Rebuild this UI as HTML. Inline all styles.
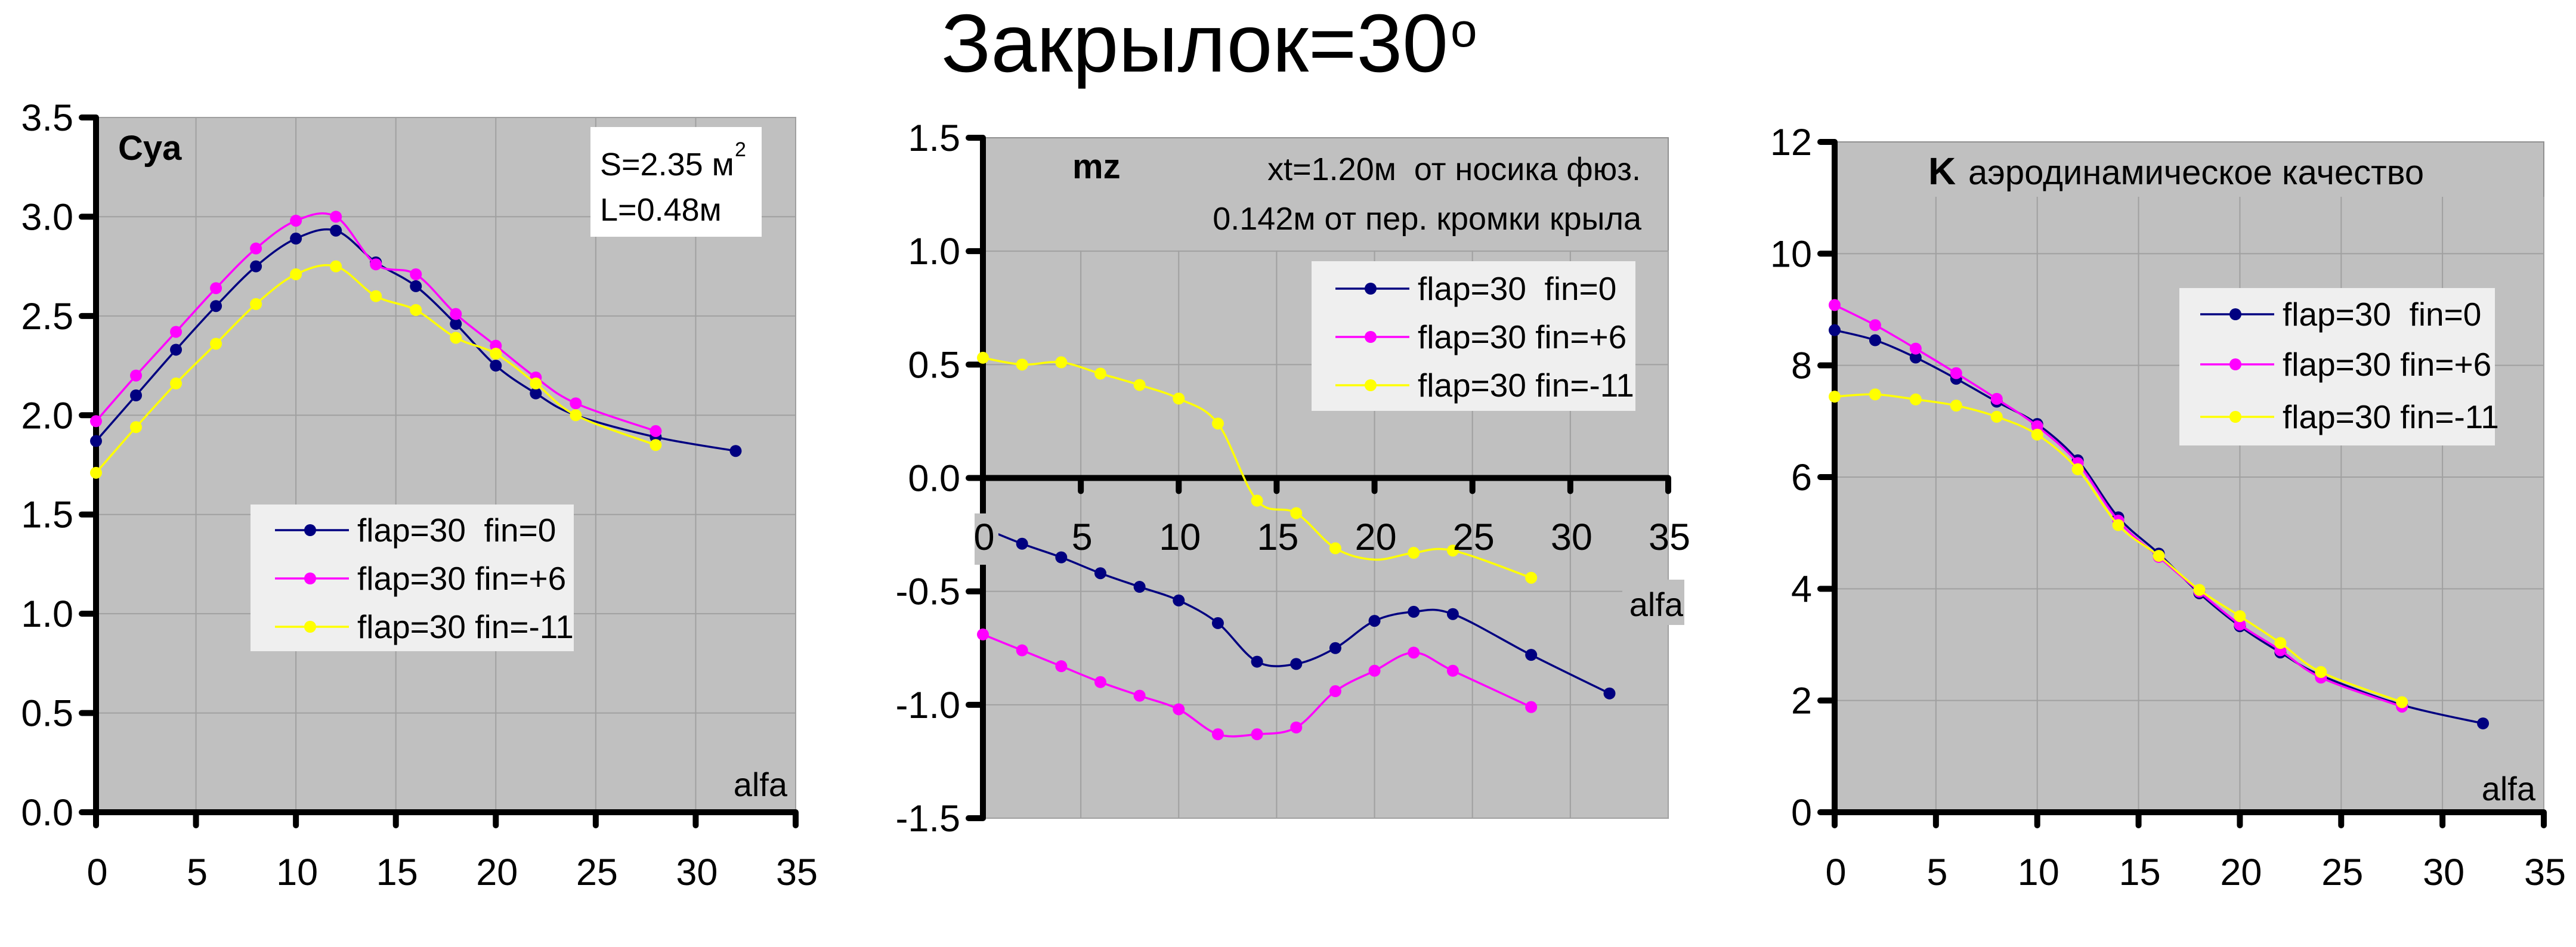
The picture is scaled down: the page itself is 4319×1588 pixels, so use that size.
<!DOCTYPE html>
<html><head><meta charset="utf-8"><style>html,body{margin:0;padding:0;background:#fff}svg{display:block}</style></head>
<body>
<svg id="s" xmlns="http://www.w3.org/2000/svg" width="4319" height="1588" viewBox="0 0 4319 1588" font-family="Liberation Sans, Arial, sans-serif">
<rect width="4319" height="1588" fill="#fff"/>
<text x="1578" y="120" font-size="138" textLength="850" lengthAdjust="spacingAndGlyphs">Закрылок=30</text>
<text x="2432" y="78" font-size="80">o</text>
</svg>
<script>
var s=document.getElementById('s');var NS='http://www.w3.org/2000/svg';
function el(t,a,txt){var e=document.createElementNS(NS,t);for(var k in a)e.setAttribute(k,a[k]);if(txt!==undefined)e.textContent=txt;s.appendChild(e);return e;}
function smooth(p){var d='M'+p[0][0]+','+p[0][1];for(var i=0;i<p.length-1;i++){var p0=p[i-1]||p[i],p1=p[i],p2=p[i+1],p3=p[i+2]||p2;var t=6;d+=' C'+(p1[0]+(p2[0]-p0[0])/t)+','+(p1[1]+(p2[1]-p0[1])/t)+' '+(p2[0]-(p3[0]-p1[0])/t)+','+(p2[1]-(p3[1]-p1[1])/t)+' '+p2[0]+','+p2[1];}return d;}
var X=[0,2,4,6,8,10,12,14,16,18,20,22,24,28,32];
var cols=['#000080','#ff00ff','#ffff00'];
function chart(c){
 var fx=function(v){return c.x0+(c.x1-c.x0)*v/35},fy=function(v){return c.yb+(c.yt-c.yb)*(v-c.ymin)/(c.ymax-c.ymin)};
 el('rect',{x:c.x0,y:c.yt,width:c.x1-c.x0,height:c.yb-c.yt,fill:'#c0c0c0',stroke:'#909090','stroke-width':2});
 for(var v=5;v<=35;v+=5)el('line',{x1:fx(v),x2:fx(v),y1:c.gtop,y2:c.yb,stroke:'#a0a0a0','stroke-width':2});
 for(var i=0;i<c.yt_.length;i++){var y=fy(c.yt_[i]);if(y>=c.gtop-1)el('line',{x1:c.x0,x2:c.x1,y1:y,y2:y,stroke:'#a0a0a0','stroke-width':2});}
 var ya=fy(c.xaxisAt);
 el('line',{x1:c.x0,x2:c.x0,y1:c.yt,y2:c.yb,stroke:'#000','stroke-width':10});
 el('line',{x1:c.x0,x2:c.x1,y1:ya,y2:ya,stroke:'#000','stroke-width':10});
 for(var i=0;i<c.yt_.length;i++){var y=fy(c.yt_[i]);el('line',{x1:c.x0-24,x2:c.x0,y1:y,y2:y,stroke:'#000','stroke-width':10,'stroke-linecap':'round'});
  el('text',{x:c.x0-38,y:y+22,'font-size':63,'text-anchor':'end'},c.yl[i]);}
 for(var v=0;v<=35;v+=5)el('line',{x1:fx(v),x2:fx(v),y1:ya,y2:ya+22,stroke:'#000','stroke-width':10,'stroke-linecap':'round'});
 for(var k=0;k<3;k++){var d=c.d[k],p=[];for(var i=0;i<d.length;i++)if(d[i]!==null)p.push([fx(X[i]),fy(d[i])]);
  el('path',{d:smooth(p),fill:'none',stroke:cols[k],'stroke-width':3.5});
  for(var i=0;i<p.length;i++)if(!(c.hide&&c.hide[k]&&c.hide[k].indexOf(i)>=0))el('circle',{cx:p[i][0],cy:p[i][1],r:10,fill:cols[k]});}
 if(c.band){el('rect',{x:c.x0-14,y:c.band[0],width:40,height:c.band[1]-c.band[0],fill:'#c0c0c0'});}
 for(var v=0;v<=35;v+=5)el('text',{x:fx(v)+2,y:c.xly,'font-size':63,'text-anchor':'middle'},''+v);
 if(c.alfaBox)el('rect',{x:c.alfaBox[0],y:c.alfaBox[1],width:c.alfaBox[2],height:c.alfaBox[3],fill:'#c0c0c0'});
 el('text',{x:c.alfa[0],y:c.alfa[1],'font-size':56,'text-anchor':'end'},'alfa');
 var L=c.leg;el('rect',{x:L[0],y:L[1],width:L[2],height:L[3],fill:'#efefef'});
 var names=['flap=30  fin=0','flap=30 fin=+6','flap=30 fin=-11'];
 for(var k=0;k<3;k++){var y=L[5][k];el('line',{x1:L[4],x2:L[4]+124,y1:y,y2:y,stroke:cols[k],'stroke-width':3.5});
  el('circle',{cx:L[4]+59,cy:y,r:10,fill:cols[k]});
  var t=el('text',{x:L[4]+138,y:y+19,'font-size':55},names[k]);t.setAttribute('xml:space','preserve');t.style.whiteSpace='pre';}
}
chart({x0:161,x1:1334,yt:197,yb:1362,ymin:0,ymax:3.5,xaxisAt:0,gtop:197,yt_:[0,0.5,1,1.5,2,2.5,3,3.5],yl:['0.0','0.5','1.0','1.5','2.0','2.5','3.0','3.5'],xly:1484,alfa:[1320,1335],
 d:[[1.87,2.10,2.33,2.55,2.75,2.89,2.93,2.77,2.65,2.46,2.25,2.11,2.00,1.89,1.82],
    [1.97,2.20,2.42,2.64,2.84,2.98,3.00,2.76,2.71,2.51,2.35,2.19,2.06,1.92,null],
    [1.71,1.94,2.16,2.36,2.56,2.71,2.75,2.60,2.53,2.39,2.31,2.16,2.00,1.85,null]],hide:[[12]],
 leg:[420,846,542,246,461,[889,970,1051]]});
chart({x0:1648,x1:2797,yt:231,yb:1372,ymin:-1.5,ymax:1.5,xaxisAt:0,gtop:420,yt_:[-1.5,-1,-0.5,0,0.5,1,1.5],yl:['-1.5','-1.0','-0.5','0.0','0.5','1.0','1.5'],xly:922,band:[861,947],
 alfa:[2822,1033],alfaBox:[2720,972,104,76],
 d:[[-0.22,-0.29,-0.35,-0.42,-0.48,-0.54,-0.64,-0.81,-0.82,-0.75,-0.63,-0.59,-0.60,-0.78,-0.95],
    [-0.69,-0.76,-0.83,-0.90,-0.96,-1.02,-1.13,-1.13,-1.10,-0.94,-0.85,-0.77,-0.85,-1.01,null],
    [0.53,0.50,0.51,0.46,0.41,0.35,0.24,-0.10,-0.155,-0.31,-0.36,-0.33,-0.32,-0.44,null]],hide:[[0],[],[10]],
 leg:[2199,438,543,251,2239,[484,565,646]]});
chart({x0:3076,x1:4265,yt:238,yb:1362,ymin:0,ymax:12,xaxisAt:0,gtop:330,yt_:[0,2,4,6,8,10,12],yl:['0','2','4','6','8','10','12'],xly:1484,alfa:[4251,1342],
 d:[[8.63,8.45,8.14,7.76,7.35,6.95,6.30,5.28,4.63,3.92,3.33,2.86,2.45,1.92,1.59],
    [9.08,8.72,8.30,7.86,7.40,6.91,6.25,5.22,4.57,3.95,3.36,2.90,2.41,1.89,null],
    [7.44,7.48,7.39,7.28,7.08,6.76,6.14,5.14,4.59,3.98,3.51,3.03,2.51,1.97,null]],
 leg:[3654,483,529,264,3689,[527,611,699]]});
el('text',{x:198,y:268,'font-size':58,'font-weight':'bold'},'Cya');
el('rect',{x:990,y:213,width:287,height:184,fill:'#fff'});
el('text',{x:1006,y:294,'font-size':54},'S=2.35 м');
el('text',{x:1232,y:262,'font-size':34},'2');
el('text',{x:1006,y:370,'font-size':54},'L=0.48м');
el('text',{x:1798,y:299,'font-size':58,'font-weight':'bold'},'mz');
var t=el('text',{x:2751,y:302,'font-size':54,'text-anchor':'end'},'xt=1.20м  от носика фюз.');t.style.whiteSpace='pre';
el('text',{x:2752,y:385,'font-size':54,'text-anchor':'end'},'0.142м от пер. кромки крыла');
el('text',{x:3233,y:309,'font-size':64,'font-weight':'bold'},'K');
el('text',{x:3300,y:309,'font-size':58},'аэродинамическое качество');
</script>
</body></html>
